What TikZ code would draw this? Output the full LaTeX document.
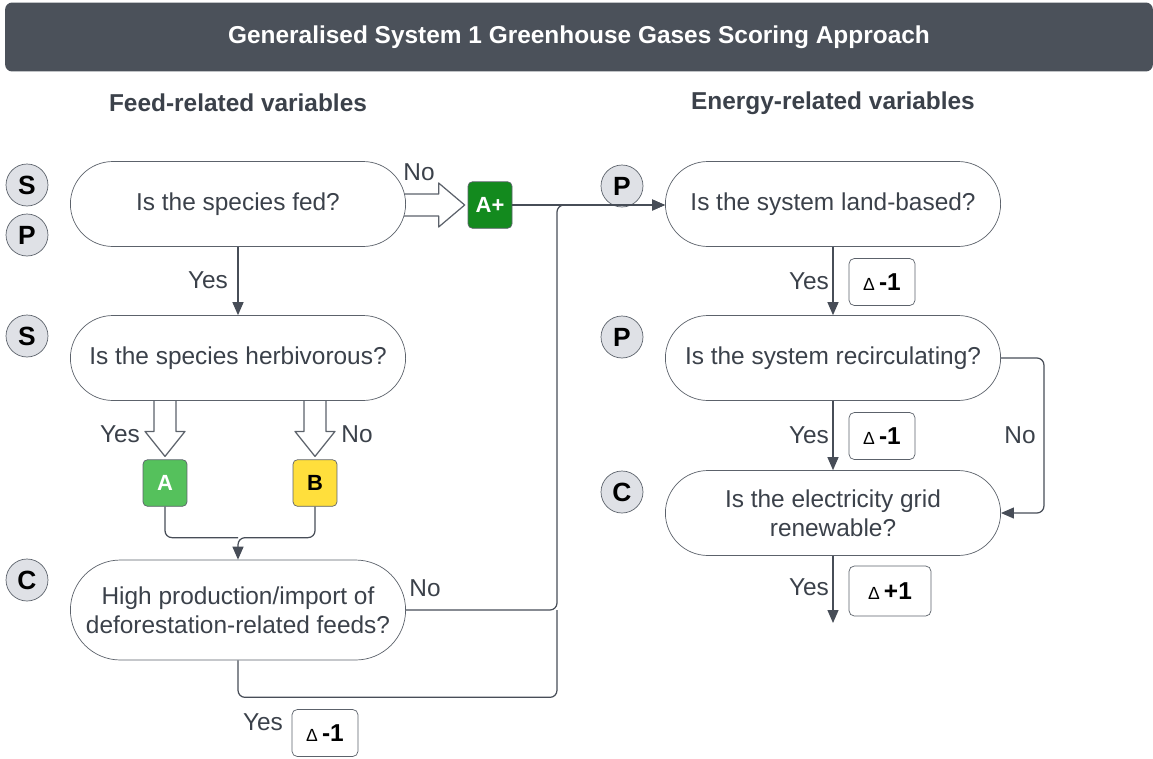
\documentclass[tikz,border=0pt]{standalone}
\usepackage{fontspec}
\setmainfont{Liberation Sans}
\usetikzlibrary{shapes.misc,arrows.meta,calc,backgrounds}
\definecolor{bannergray}{HTML}{4B515A}
\definecolor{textgray}{HTML}{3B414A}
\definecolor{edgegray}{HTML}{5C626B}
\definecolor{linecol}{HTML}{474D57}
\definecolor{badgegray}{HTML}{DFE1E6}
\definecolor{greenA}{HTML}{55C15C}
\definecolor{greenAplus}{HTML}{138A1E}
\definecolor{yellowB}{HTML}{FFDF3C}
\newcommand\qsize{\fontsize{13.9}{16.6}\selectfont}
\newcommand\bsize{\fontsize{15}{15}\selectfont}
\newcommand\gsize{\fontsize{12.5}{13}\selectfont}
\newcommand\deltasign{{\fontsize{10}{10}\selectfont\mdseries Δ}\,}
\tikzset{
  question/.style={rounded rectangle, draw=edgegray, fill=white, text=textgray, align=center,
    minimum width=6.94cm, minimum height=1.7cm, font=\qsize},
  badge/.style={circle, draw=edgegray, fill=badgegray, minimum size=0.84cm, inner sep=0pt, font=\bsize\bfseries},
  grade/.style={draw=edgegray, rounded corners=2.5pt, minimum width=0.88cm, minimum height=0.93cm,
    inner sep=0pt, font=\gsize\bfseries},
  deltabox/.style={draw=edgegray, fill=white, rounded corners=3pt, minimum width=1.32cm,
    minimum height=0.94cm, inner sep=0pt, font=\qsize\bfseries},
  answer/.style={text=textgray, font=\qsize, inner sep=1pt},
  heading/.style={text=textgray, font=\qsize\bfseries},
  flow/.style={draw=linecol, line width=0.7pt, rounded corners=4pt, -{Triangle[length=0.26cm,width=0.22cm]}},
  plainflow/.style={flow, -},
  hollow/.style={draw=edgegray, fill=white, line width=0.7pt, line join=round}
}
\begin{document}
\begin{tikzpicture}[x=0.02cm,y=-0.02cm]
  \useasboundingbox (0,0) rectangle (1153,758);
  \node[fill=bannergray, rounded corners=4pt, minimum width=22.96cm, minimum height=1.38cm,
    text=white, font=\qsize\bfseries] (title) at (579,37) {Generalised System 1 Greenhouse Gases Scoring Approach};
  \node[heading] (feedhead) at (238,103) {Feed-related variables};
  \node[heading] (energyhead) at (833,103) {Energy-related variables};

  % feed side
  \node[question] (q1) at (238,204) {Is the species fed?};
  \node[question] (q2) at (238,358) {Is the species herbivorous?};
  \node[question, minimum height=2cm] (q3) at (238,610) {High production/import of\\deforestation-related feeds?};
  \node[badge] (s1) at (27,185) {S};
  \node[badge] (p1) at (27,235) {P};
  \node[badge] (s2) at (27,336) {S};
  \node[badge] (c1) at (27,580) {C};
  \node[grade, fill=greenAplus, text=white] (aplus) at (490,205) {A+};
  \node[grade, fill=greenA, text=white] (a) at (165,483) {A};
  \node[grade, fill=yellowB, text=black] (b) at (315,483) {B};
  \node[deltabox] (d1) at (325,733) {\deltasign-1};

  % energy side
  \node[question] (q4) at (833,204) {Is the system land-based?};
  \node[question] (q5) at (833,358) {Is the system recirculating?};
  \node[question] (q6) at (833,513) {Is the electricity grid\\renewable?};
  \node[deltabox] (d2) at (882,282) {\deltasign-1};
  \node[deltabox] (d3) at (882,436) {\deltasign-1};
  \node[deltabox, minimum width=1.64cm, minimum height=1cm] (d4) at (890,591) {\deltasign+1};
  \coordinate (merge) at (557,205);
  \coordinate (stop) at (833,623);

  % hollow arrows
  \begin{pgfonlayer}{background}
    \draw[hollow] ($(q1.east |- aplus.west)+(-8,-11)$) -- ($(aplus.west)+(-29,-11)$) -- ++(0,-11)
      -- ($(aplus.west)+(-3,0)$) -- ($(aplus.west)+(-29,22)$) -- ++(0,-11)
      -- ($(q1.east |- aplus.west)+(-8,11)$) -- cycle;
    \foreach \g in {a,b}
      \draw[hollow] ($(q2.south -| \g.north)+(-11,-8)$) -- ($(\g.north)+(-11,-28)$) -- ++(-9,0)
        -- ($(\g.north)+(0,-3)$) -- ($(\g.north)+(20,-28)$) -- ++(-9,0)
        -- ($(q2.south -| \g.north)+(11,-8)$) -- cycle;
  \end{pgfonlayer}

  \node[answer] (n1) at (419,172) {No};
  \node[answer] (y1) at (208,280) {Yes};
  \node[answer] (y2) at (120,434) {Yes};
  \node[answer] (n2) at (357,434) {No};
  \node[answer] (n3) at (425,588) {No};
  \node[answer] (y3) at (263,722) {Yes};
  \node[answer] (y4) at (809,281) {Yes};
  \node[answer] (y5) at (809,435) {Yes};
  \node[answer] (n5) at (1020,435) {No};
  \node[answer] (y6) at (809,587) {Yes};
  \node[badge] (p2) at (622,186) {P};
  \node[badge] (p3) at (622,337) {P};
  \node[badge] (c2) at (622,492) {C};

  \draw[flow] (q1.south) -- (q2.north);
  \draw[plainflow] (a.south) |- ($(q3.north)+(0,-22)$);
  \draw[flow] (b.south) |- ($(q3.north)+(0,-22)$) -- (q3.north);
  \draw[flow] (aplus.east) -- (aplus.east -| q4.west);
  \draw[flow] (q3.east) -- (q3.east -| merge) -- (merge) -- (merge -| q4.west);
  \draw[plainflow] (q3.south) -- ++(0,37) -| (q3.east -| merge);
  \draw[flow] (q4.south) -- (q5.north);
  \draw[flow] (q5.south) -- (q6.north);
  \draw[flow] (q5.east) -- ++(43,0) |- (q6.east);
  \draw[flow] (q6.south) -- (stop);
\end{tikzpicture}
\end{document}
